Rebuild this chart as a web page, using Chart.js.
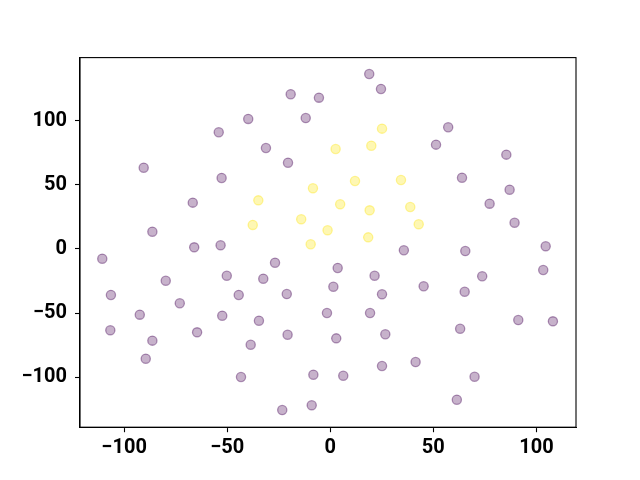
<!DOCTYPE html>
<html>
<head>
<meta charset="utf-8">
<script src="https://cdn.jsdelivr.net/npm/chart.js@4"></script>
<style>
  html, body { margin: 0; padding: 0; background: #fff; }
  #wrap { width: 640px; height: 480px; }
</style>
</head>
<body>
<div id="wrap"><canvas id="chart" width="640" height="480"></canvas></div>
<script>
// scatter data
const purpleX = [-19.2, -5.5, -39.8, -11.9, -54.1, -31.2, -20.5, -90.5, -52.7, -66.7, -86.3, -66.0, -53.2,
  18.9, 24.6, 57.2, 51.3, 85.4, 63.9, 87.0, 77.3, 89.4, 104.5, 35.7, 65.5,
  -110.6, -26.8, -50.2, -32.5, -79.8, -106.4, -44.4, -21.1, -73.0, -1.6, -92.4, -52.4, -34.6, -106.7,
  -64.6, -20.7, -86.3, -38.6, -89.5, -43.3, -8.2, -9.0, -23.3,
  3.6, 21.5, 73.7, 103.3, 1.5, 25.1, 45.3, 65.2, 19.3, 91.2, 108.0, 63.0, 2.9, 26.7, 41.4, 25.1, 6.3, 70.0, 61.4];
const purpleY = [120.9, 118.2, 101.6, 102.3, 91.2, 78.9, 67.4, 63.5, 55.5, 36.2, 13.5, 1.3, 2.9,
  136.7, 125.0, 95.1, 81.5, 73.7, 55.7, 46.3, 35.4, 20.5, 2.1, -1.0, -1.6,
  -7.6, -10.7, -20.9, -23.2, -24.8, -35.9, -35.9, -35.2, -42.4, -50.0, -51.3, -52.1, -56.0, -63.5,
  -65.1, -67.0, -71.6, -74.8, -85.7, -100.0, -98.2, -122.1, -125.8,
  -14.8, -20.9, -21.3, -16.4, -29.5, -35.4, -29.1, -33.4, -50.0, -55.5, -56.5, -62.3, -69.8, -66.6, -88.3, -91.4, -99.0, -99.8, -117.7];

const yellowX = [-8.4, -34.9, -14.1, -37.6, -1.3, -9.5, 25.1, 2.6, 19.9, 12.0, 34.3, 4.8, 19.1, 38.8, 42.9, 18.4];
const yellowY = [47.4, 38.0, 23.2, 18.8, 14.6, 3.7, 94.0, 78.1, 80.7, 53.1, 53.9, 34.9, 30.2, 32.8, 19.3, 9.1];

const xTicks = [-100, -50, 0, 50, 100];
const yTicks = [-100, -50, 0, 50, 100];

function toPoints(xs, ys) {
  return xs.map((x, i) => ({ x: x, y: ys[i] }));
}

function fmt(v) {
  return v < 0 ? "\u2212" + Math.abs(v) : String(v);
}

// full box round the plot, like matplotlib
const frame = {
  id: "frame",
  afterDraw(chart) {
    const a = chart.chartArea;
    const ctx = chart.ctx;
    ctx.save();
    ctx.strokeStyle = "#000";
    ctx.lineWidth = 1.1;
    ctx.strokeRect(a.left, a.top, a.right - a.left, a.bottom - a.top);
    ctx.restore();
  },
};

const tickFont = { family: "Roboto", weight: "bold", size: 20 };

new Chart(document.getElementById("chart"), {
  type: "scatter",
  data: {
    datasets: [
      {
        data: toPoints(purpleX, purpleY),
        backgroundColor: "rgba(68,1,84,0.3)",
        borderColor: "rgba(68,1,84,0.4)",
        borderWidth: 1.3,
        pointRadius: 4.6,
        pointHoverRadius: 4.6,
      },
      {
        data: toPoints(yellowX, yellowY),
        backgroundColor: "rgba(253,231,37,0.35)",
        borderColor: "rgba(253,231,37,0.45)",
        borderWidth: 1.3,
        pointRadius: 4.6,
        pointHoverRadius: 4.6,
      },
    ],
  },
  options: {
    responsive: false,
    animation: false,
    events: [],
    layout: { padding: { left: 0, right: 64, top: 57.6, bottom: 0 } },
    plugins: { legend: { display: false }, tooltip: { enabled: false } },
    scales: {
      x: {
        type: "linear",
        min: -121.4,
        max: 119.2,
        afterBuildTicks: (s) => { s.ticks = xTicks.map((v) => ({ value: v })); },
        afterFit: (s) => { s.height = 52.8; },
        grid: { drawOnChartArea: false, drawTicks: true, tickLength: 5, tickColor: "#000", tickWidth: 1.1 },
        border: { display: true, color: "#000", width: 1.1 },
        ticks: { color: "#000", font: tickFont, padding: 4, maxRotation: 0, callback: fmt },
      },
      y: {
        type: "linear",
        min: -139.2,
        max: 149.5,
        afterBuildTicks: (s) => { s.ticks = yTicks.map((v) => ({ value: v })); },
        afterFit: (s) => { s.width = 80; },
        grid: { drawOnChartArea: false, drawTicks: true, tickLength: 5, tickColor: "#000", tickWidth: 1.1 },
        border: { display: true, color: "#000", width: 1.1 },
        ticks: { color: "#000", font: tickFont, padding: 8, callback: fmt },
      },
    },
  },
  plugins: [frame],
});
</script>
</body>
</html>
